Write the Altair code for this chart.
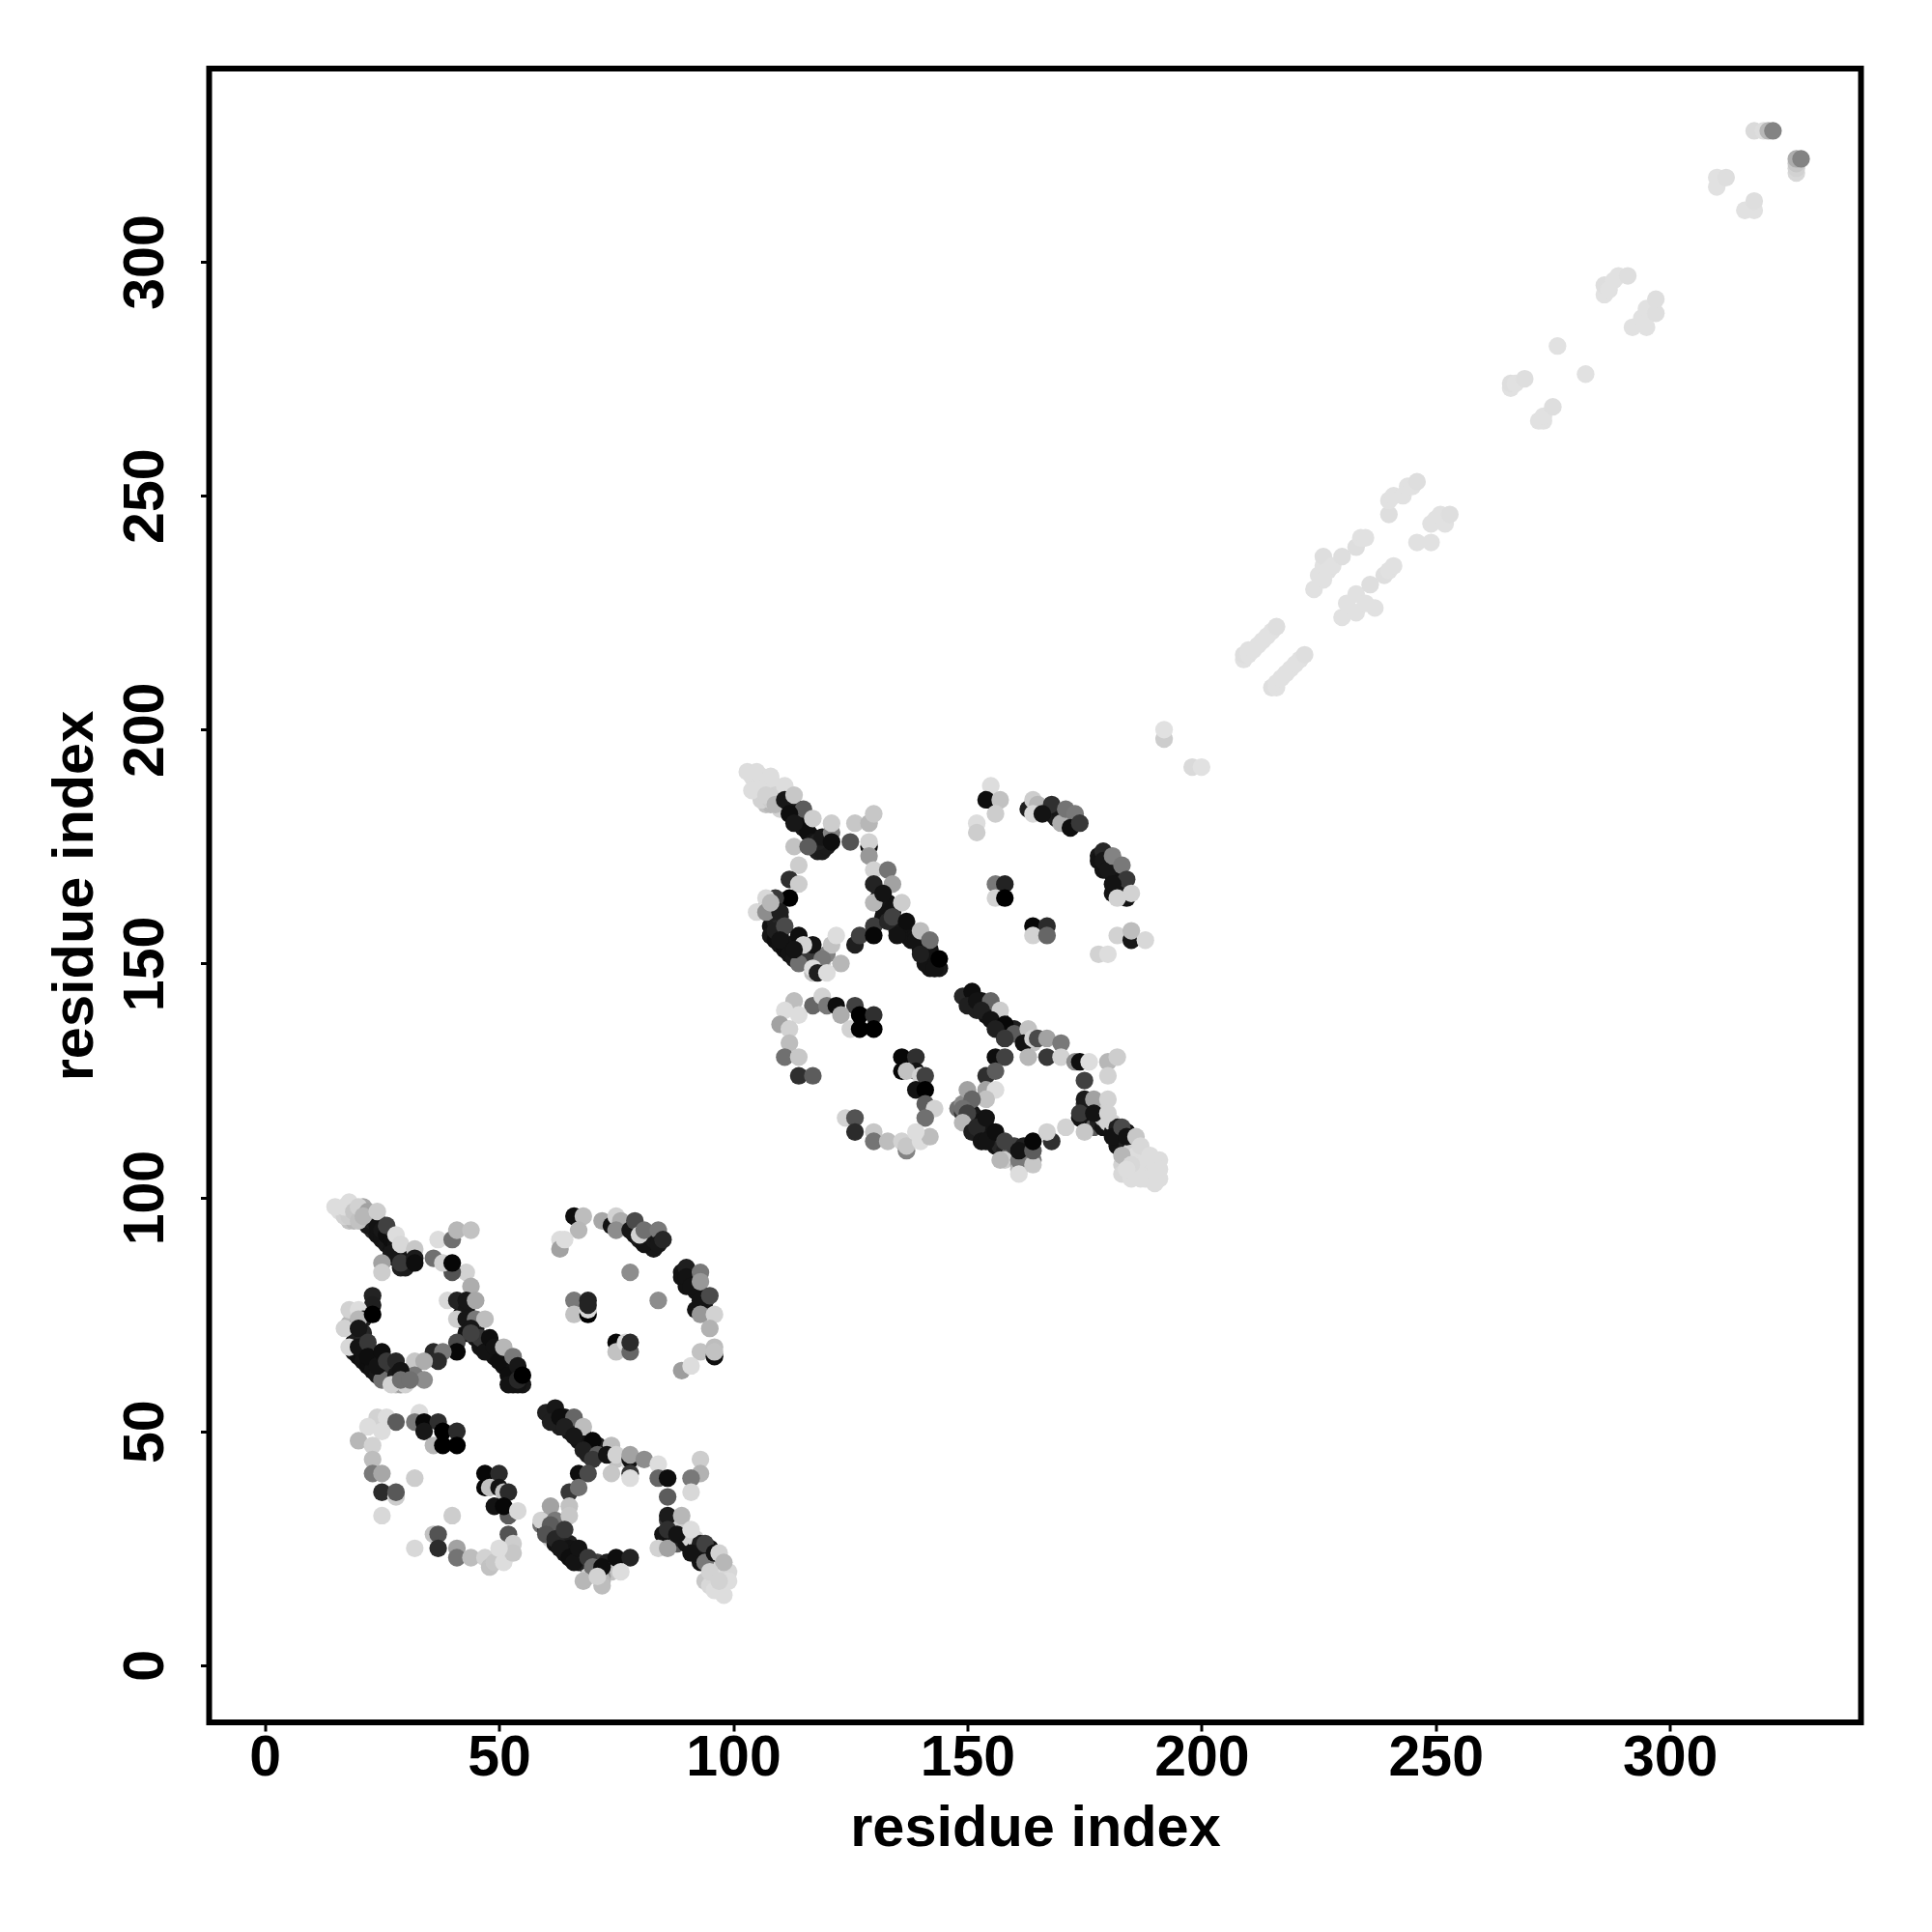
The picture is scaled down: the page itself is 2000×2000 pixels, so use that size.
import altair as alt
import pandas as pd

# each entry: residue i, residue j, grey shade (0 black .. 255 white)
under_a1 = [
 [19,69,15],[19,67,20],[20,66,10],[21,67,15],[21,65,15],[22,64,10],[23,65,15],[23,63,15],[24,62,20],[25,63,15],[26,62,15],[27,64,30],[27,62,60],[25,61,120],[28,60,200],[29,60,170],[30,61,200],[31,63,140],[20,70,30],[21,71,40],[19,72,30],[18,73,190],[20,73,50],
 [22,95,60],[23,93,40],[22,94,20],[24,92,15],[25,91,15],[26,90,20],[27,89,15],[28,88,20],[24,95,25],[25,94,15],[18,95,200],[19,95,190],[21,98,175],[20,96,200],[16,97,225],[17,96,215],[18,96,210],[29,85,30],[30,85,25],[31,86,25],
 [43,71,15],[45,70,20],[46,68,15],[47,69,20],[48,67,15],[49,66,15],[50,67,15],[51,64,15],[52,65,15],[52,63,10],[53,62,10],[53,64,15],[55,60,20],[53,60,15],[54,60,15],[44,74,15],[45,72,20],[43,73,15],[42,75,20],
]
block_a1 = [
 [23,95,30],[24,94,15],[25,93,20],[26,92,10],[27,91,10],[28,90,15],[29,88,10],[30,87,20],[28,87,30],[27,88,20],
 [15,98,225],[17,98,225],[18,99,225],[19,97,205],[20,95,200],[20,98,215],[22,97,170],[21,96,190],[24,97,210],
 [26,94,70],[28,92,225],[29,90,220],[25,86,170],[25,84,210],[29,86,60],[32,89,205],[32,87,25],[32,86,10],
 [36,87,120],[37,91,225],[40,91,120],[41,93,190],[44,93,200],[43,84,215],[40,84,90],[38,86,215],[40,86,5],[44,81,180],
 [39,78,220],[41,78,35],[43,76,20],[43,78,20],[45,78,175],[41,74,210],[43,74,20],[45,74,130],[47,74,195],[44,72,20],
 [41,69,80],[41,67,5],[36,67,40],[38,67,130],[37,65,45],[32,65,205],[34,65,180],[32,62,130],[34,61,150],
 [46,70,60],[47,67,15],[48,70,10],[49,68,15],[50,65,10],[51,68,190],[53,66,130],[52,62,10],[52,60,15],[54,64,20],[54,61,40],[55,62,0],
 [44,71,70],
 [23,79,35],[23,77,30],[18,76,215],[20,76,225],[21,74,30],[20,74,190],[23,75,0],[17,72,215],[20,72,20],[18,68,220],
 [20,68,15],[22,69,60],[22,66,10],[24,64,15],[25,67,10],[26,65,60],[28,65,40],[28,62,20],[29,63,15],[27,60,215],[30,60,215],[29,61,120],[31,61,120],
]
under_b1 = [
 [79,92,15],[80,91,25],[81,91,15],[82,90,20],[83,89,20],[77,94,20],[89,84,20],[89,83,15],[90,81,15],[91,83,20],[92,80,15],[92,76,15],[94,76,15],[94,78,20],
]
block_b1 = [
 [66,96,10],[68,96,195],[72,95,175],[67,93,190],[63,91,225],[63,89,170],[64,91,225],
 [74,94,15],[75,96,215],[76,95,180],[75,93,150],[78,93,20],[79,95,80],[81,90,15],[83,91,20],[80,92,215],[81,93,120],[84,93,130],[84,90,20],[85,91,40],
 [78,84,150],[84,78,150],
 [90,85,30],[90,83,15],[91,81,15],[93,84,130],[93,82,160],[93,78,15],[95,79,80],[93,75,160],[96,75,215],[95,72,185],[93,67,200],[96,66,10],[96,68,195],[96,67,200],[89,63,165],[91,64,225],
 [66,78,130],[69,78,35],[66,75,200],[69,75,0],[69,76,220],[69,77,35],[75,69,5],[75,67,200],[77,69,220],[78,67,110],[78,69,45],
]
block_c1 = [
 [24,53,215],[26,53,225],[28,52,100],[33,54,225],[32,52,130],[34,52,5],[37,52,50],[22,51,225],[25,50,225],[20,48,190],[23,47,215],
 [23,44,195],[23,41,130],[25,41,175],[25,37,45],[28,36,210],[28,37,95],[32,40,210],[25,32,220],
 [34,50,20],[36,47,190],[38,50,0],[41,50,45],[38,47,0],[41,47,0],
 [47,41,5],[50,41,45],[47,38,5],[48,38,200],[50,38,15],[51,37,200],[52,37,45],[49,34,15],[52,32,100],[51,34,5],[54,33,220],
 [52,28,90],[53,26,210],[40,32,210],[36,28,200],[37,28,90],[37,25,45],[32,25,220],[41,25,170],[41,23,125],[44,23,195],[47,23,215],[48,21,200],[49,22,205],[51,22,225],[53,24,205],[50,25,225],
]
under_d1 = [
 [61,54,20],[62,53,20],[63,51,30],[64,53,15],[65,50,15],[65,52,25],[66,51,20],[67,48,15],[68,49,20],[69,47,15],[70,46,15],[71,47,30],[69,45,30],[74,46,30],[75,44,200],[78,43,225],
 [59,30,120],[60,31,150],[60,30,215],[60,29,60],[61,28,30],[61,27,215],[62,29,20],[62,26,15],[63,28,20],[63,27,15],[64,26,20],[64,24,15],[65,26,30],[65,25,15],[66,24,15],[66,23,20],[67,22,15],[68,23,20],[68,22,40],[69,21,30],[70,20,120],[69,19,210],[71,22,70],[73,20,60],[73,22,30],[74,21,30],[75,21,215],[74,20,200],[72,19,160],[72,18,190],
 [86,31,60],[85,28,15],[87,30,20],[87,27,15],[88,31,150],[88,26,100],[89,30,210],[89,27,30],[90,26,15],[90,28,200],[91,27,215],[92,25,20],[92,27,215],[93,24,15],[93,22,15],[93,26,30],[95,23,30],[95,25,15],[94,18,205],[95,17,220],[96,19,220],[96,21,220],[97,16,225],[96,16,225],[98,19,225],[99,20,220],
]
block_d1 = [
 [60,54,30],[62,55,20],[61,52,30],[63,53,10],[66,53,110],[64,51,30],[68,51,195],[66,49,20],[70,48,5],[68,46,30],[71,45,100],[70,44,60],
 [74,47,195],[73,45,15],[75,45,215],[78,44,15],[78,45,170],[81,44,150],[84,43,225],[78,41,60],[74,41,205],[78,40,225],
 [67,41,10],[69,41,80],[84,40,110],[86,40,10],[93,44,210],[93,41,185],[91,40,130],[91,37,220],[86,36,100],[65,37,60],[67,38,120],
 [59,31,215],[61,34,170],[62,31,130],[61,30,100],[65,34,200],[65,32,205],
 [60,28,90],[62,27,40],[64,29,60],[63,25,20],[65,23,10],[66,22,15],[67,25,15],[69,23,60],[70,21,120],[72,21,10],[75,23,10],[78,23,35],[76,20,225],[68,18,190],[72,17,195],[71,19,215],
 [86,32,25],[86,29,50],[84,25,215],[86,25,170],[88,28,15],[89,32,190],[91,29,225],[91,24,15],[94,26,70],[94,22,130],[96,24,15],[97,24,215],[98,22,190],[95,20,215],[99,18,225],[98,15,225],[97,18,215],
]
under_a2 = [
 [108,158,15],[108,156,20],[109,155,10],[110,156,15],[110,154,15],[111,153,10],[112,154,15],[112,152,15],[113,151,20],[114,152,15],[115,151,15],[116,153,30],[116,151,60],[114,150,120],[117,148,200],[118,149,170],[119,150,200],[120,152,140],[109,159,30],[110,160,40],[108,161,30],[107,162,190],[109,162,50],
 [111,184,60],[112,182,40],[113,183,20],[113,181,15],[114,180,15],[115,179,20],[116,178,15],[117,177,20],[114,183,15],[107,184,200],[108,184,190],[110,187,175],[109,185,200],[118,174,30],[119,174,25],[120,175,25],
 [104,190,225],[105,189,225],[106,188,225],[106,190,225],[107,189,225],[108,187,225],[109,188,225],[105,187,225],[106,185,215],[108,185,210],[110,186,210],[110,183,215],[109,186,215],[112,186,200],
 [132,160,15],[134,159,20],[135,157,15],[136,158,20],[137,156,15],[138,155,15],[139,156,15],[140,153,15],[141,154,15],[141,152,10],[142,151,10],[142,153,15],[144,149,20],[142,149,15],[143,149,15],[133,163,15],[134,161,20],[132,162,15],[131,164,20],
]
block_a2 = [
 [112,184,20],[113,182,15],[114,181,20],[115,180,10],[116,178,10],[117,176,15],[118,176,30],[119,177,20],
 [103,191,225],[105,191,225],[108,190,225],[104,187,225],[107,186,215],[111,188,225],[109,184,190],[111,185,20],[113,186,205],
 [115,183,100],[112,182,10],[113,180,20],[117,181,210],[121,178,140],[121,176,10],[121,180,210],[126,180,205],[129,180,190],[130,182,205],
 [125,176,90],[129,175,10],[129,176,215],[113,175,200],[116,175,100],[129,173,160],
 [114,171,210],[112,168,50],[114,167,210],[112,164,0],[109,164,60],[107,164,220],[105,161,220],[107,161,150],[110,161,30],[108,163,190],
 [109,157,30],[111,158,80],[114,156,10],[110,155,15],[117,154,15],[115,154,215],[113,153,15],[121,154,200],[122,156,225],[123,150,190],[119,151,130],[117,149,225],[118,148,30],[120,148,225],
 [126,154,30],[127,156,70],[130,158,65],[130,156,5],
 [130,170,215],[130,167,35],[133,170,125],[134,167,170],[130,163,190],[132,165,15],[136,163,210],[133,159,40],[134,160,70],[137,159,10],[135,156,15],[139,155,15],[140,157,195],[142,155,120],[141,150,15],[140,152,30],[143,149,15],[144,151,0],
]
under_b2 = [
 [167,183,15],[168,182,20],[169,181,25],[170,182,15],[171,180,20],[172,181,20],[178,173,20],[178,172,15],[179,170,15],[180,172,20],[181,169,15],[181,165,15],[183,165,15],[183,167,20],
]
block_b2 = [
 [155,188,225],[154,185,10],[157,185,200],[156,182,210],[152,180,225],[152,178,210],[163,183,30],[164,185,210],[165,184,190],[164,182,220],
 [168,184,50],[166,182,15],[170,181,20],[170,180,180],[171,183,125],[173,182,130],[172,179,10],[174,180,60],
 [179,174,40],[179,172,20],[180,170,20],[181,173,140],[183,171,130],[184,168,60],[181,167,15],[184,164,15],[185,165,215],[182,164,215],
 [182,156,215],[185,155,20],[185,157,195],[188,155,220],[178,152,215],[180,152,225],
 [156,167,130],[158,167,35],[156,164,215],[158,164,0],[164,158,5],[167,158,45],[164,156,215],[167,156,110],
]
block_c2 = [
 [113,142,195],[111,140,225],[117,141,110],[119,143,215],[120,141,130],[122,141,10],[126,141,70],[114,139,225],[110,137,170],[112,136,215],
 [112,133,195],[111,130,120],[114,130,205],[114,126,50],[117,126,100],
 [123,139,180],[125,136,215],[127,139,0],[130,139,50],[127,136,0],[130,136,0],
 [136,130,5],[139,130,50],[136,127,5],[139,127,15],[137,127,200],[140,126,215],[141,126,70],[139,123,15],[141,123,0],[141,120,100],[143,119,215],[141,117,120],
 [124,117,215],[126,117,90],[126,114,45],[130,114,205],[130,112,125],[133,112,195],[136,112,215],[137,110,140],[137,111,205],[140,112,225],[142,113,195],[139,114,225],
]
under_d2 = [
 [150,143,20],[151,142,20],[152,140,30],[153,142,15],[154,139,15],[154,141,25],[155,140,20],[156,137,15],[157,138,20],[158,136,15],[159,135,15],[160,136,30],[158,134,30],[163,135,30],[164,133,200],
 [148,119,120],[149,120,150],[149,118,60],[150,117,30],[150,116,215],[151,118,20],[151,115,15],[152,117,20],[152,116,15],[153,115,20],[153,113,15],[154,115,30],[154,114,15],[155,113,15],[155,112,20],[156,111,15],[157,112,20],[157,111,40],[158,110,30],[159,109,120],[158,108,210],[160,111,70],[162,109,60],[162,111,30],[163,110,30],[163,109,100],[161,107,160],[161,106,190],[164,108,130],
 [175,120,60],[174,117,15],[176,119,20],[176,116,15],[177,120,150],[177,115,100],[178,119,210],[178,116,30],[179,115,15],[179,117,200],[180,116,215],[181,114,20],[181,116,215],[182,113,15],[182,111,15],[182,115,30],[184,112,30],[184,114,15],
 [183,107,215],[183,105,220],[184,108,215],[185,110,215],[186,109,225],[186,107,225],[187,108,225],[188,106,225],[188,108,225],[189,105,225],[188,104,225],[190,105,225],[190,107,225],[191,104,225],[191,108,225],[186,105,225],[185,104,225],
]
block_d2 = [
 [149,143,40],[151,144,10],[150,141,30],[152,142,15],[155,142,110],[153,140,30],[157,140,210],[155,138,15],[158,137,5],[156,136,30],[160,135,100],[158,134,60],
 [163,136,200],[162,133,15],[164,134,215],[165,134,80],[167,134,170],[170,133,130],[167,130,60],[163,130,190],[170,130,215],[156,130,10],[158,130,70],
 [173,129,150],[174,129,10],[176,129,225],[180,129,190],[182,130,210],[180,126,215],[175,125,70],
 [154,126,50],[156,127,100],[154,123,170],[156,123,225],[154,121,200],[150,123,170],[151,121,110],
 [149,119,120],[150,118,70],[149,116,190],[151,114,30],[152,115,40],[154,117,15],[153,112,15],[154,112,15],[156,114,10],[158,112,70],[157,108,190],[161,108,130],[161,105,225],[161,110,15],[164,107,205],[164,110,100],[164,112,5],[168,112,50],[167,114,215],[171,115,215],
 [175,121,25],[174,118,60],[175,114,205],[177,121,170],[177,118,15],[180,121,215],[180,118,215],[181,113,15],[183,115,80],[184,113,15],[186,113,205],
 [183,109,190],[185,107,220],[184,106,225],[187,111,220],[187,104,225],[189,109,225],[190,103,225],[191,106,225],
]
block_e = [
 [192,198,210],[192,200,228],[198,192,222],[200,192,228],
 [209,215,228],[209,216,226],[210,216,228],[210,217,228],[211,217,228],[212,218,228],[213,219,228],[214,220,228],[215,221,228],[216,222,226],
 [215,209,226],[216,209,228],[216,210,228],[217,211,228],[218,212,228],[219,213,228],[220,214,228],[221,215,228],[222,216,226],
 [224,230,228],[225,233,228],[226,232,228],[226,235,228],[226,237,226],[227,234,228],[228,235,228],[230,237,226],
 [233,239,226],[234,241,228],[235,241,228],
 [230,224,228],[231,227,228],[233,225,228],[233,229,228],[235,227,228],[236,231,226],[237,226,228],
 [239,233,226],[240,234,228],[241,235,228],
 [240,246,226],[240,249,228],[241,250,228],[243,250,228],[244,252,228],[245,252,228],[246,253,226],
 [246,240,228],[249,240,228],[249,244,228],[250,245,228],[251,246,228],[252,244,228],[253,246,226],
 [266,273,228],[266,274,226],[267,274,228],[269,275,226],[272,266,228],[273,266,228],[273,267,228],[275,269,226],
 [276,282,228],[282,276,228],
 [286,293,228],[286,295,226],[287,294,228],[288,296,228],[289,297,228],[291,297,226],
 [292,286,228],[294,288,228],[295,286,228],[295,290,228],[297,289,226],[297,292,226],
 [310,316,228],[310,318,228],[312,318,226],[316,311,228],[318,311,228],[318,313,226],
 [318,328,222],[320,328,225],[321,328,190],[322,328,140],
 [327,319,220],[327,320,215],[327,321,205],[327,322,180],[328,322,140],
]

blocks = [under_a1, block_a1, under_b1, block_b1, block_c1, under_d1, block_d1,
          under_a2, block_a2, under_b2, block_b2, block_c2, under_d2, block_d2, block_e]
rows = [{"i": p[0], "j": p[1], "shade": p[2]} for b in blocks for p in b]
df = pd.DataFrame(rows)

tick_values = [0, 50, 100, 150, 200, 250, 300]
FONT = "Liberation Sans"

x_axis = alt.Axis(values=tick_values, title="residue index", grid=False, domain=False,
                  tickColor="black", tickWidth=3, tickSize=9, labelFont=FONT, labelFontWeight="bold",
                  labelFontSize=59, labelColor="black", labelPadding=-2, titleFont=FONT, titleFontWeight="bold",
                  titleFontSize=59.5, titleColor="black", titlePadding=14, labelFlush=False, labelOverlap=False)
y_axis = alt.Axis(values=tick_values, title="residue index", grid=False, domain=False,
                  tickColor="black", tickWidth=3, tickSize=9, labelFont=FONT, labelFontWeight="bold",
                  labelFontSize=59, labelColor="black", labelAngle=270, labelAlign="center", labelBaseline="bottom",
                  labelPadding=27, titleFont=FONT, titleFontWeight="bold", titleFontSize=59.5, titleColor="black",
                  titlePadding=14, labelFlush=False, labelOverlap=False)

chart = (
    alt.Chart(df)
    .mark_circle(size=335, opacity=1, stroke=None)
    .encode(
        x=alt.X("i:Q", scale=alt.Scale(domain=[-11.9, 340.8], nice=False, zero=False), axis=x_axis),
        y=alt.Y("j:Q", scale=alt.Scale(domain=[-12.2, 341.3], nice=False, zero=False), axis=y_axis),
        color=alt.Color("shade:Q", scale=alt.Scale(domain=[0, 255], range=["#000000", "#ffffff"]), legend=None),
    )
    .properties(width=1710, height=1712, padding={"left": 39.5, "top": 63, "right": 10, "bottom": 10})
    .configure_view(stroke="black", strokeWidth=6, fill="white")
)
chart.save("out.html", embed_options={"renderer": "svg", "actions": False})
